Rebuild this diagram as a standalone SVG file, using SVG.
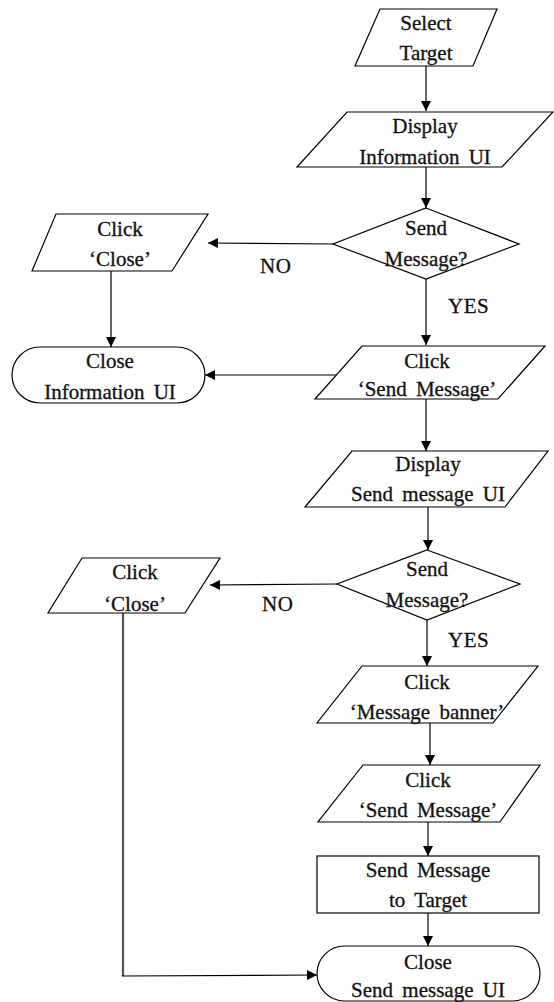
<svg xmlns="http://www.w3.org/2000/svg" width="554" height="1002" viewBox="0 0 554 1002">
<defs>
<marker id="ah" markerUnits="userSpaceOnUse" markerWidth="11" markerHeight="10" refX="10" refY="5" orient="auto">
<path d="M0,0 L10,5 L0,10 z" fill="#000"/>
</marker>
<style>
.s{fill:#fff;stroke:#000;stroke-width:1.2}
.t{font-family:"Liberation Serif","Times New Roman",serif;font-size:21px;letter-spacing:0px;word-spacing:4px;fill:#111;stroke:#111;stroke-width:0.3;text-anchor:middle}
.l{font-family:"Liberation Serif","Times New Roman",serif;font-size:21px;letter-spacing:0.5px;fill:#111;stroke:#111;stroke-width:0.3}
.c{fill:none;stroke:#000;stroke-width:1.2;marker-end:url(#ah)}
</style>
</defs>
<rect width="554" height="1002" fill="#fff"/>
<g id="connectors">
<line class="c" x1="426" y1="66" x2="426" y2="111"/>
<line class="c" x1="426" y1="167" x2="426" y2="208"/>
<line class="c" x1="333" y1="244" x2="208" y2="243"/>
<line class="c" x1="426" y1="279" x2="426" y2="345"/>
<line class="c" x1="111" y1="271" x2="111" y2="347"/>
<line class="c" x1="336" y1="375" x2="205" y2="375"/>
<line class="c" x1="426" y1="399" x2="426" y2="451"/>
<line class="c" x1="428" y1="507" x2="428" y2="550"/>
<line class="c" x1="337" y1="584" x2="210" y2="585"/>
<line class="c" x1="427" y1="620" x2="427" y2="666"/>
<line class="c" x1="430" y1="723" x2="430" y2="765"/>
<line class="c" x1="428" y1="822" x2="428" y2="856"/>
<line class="c" x1="428" y1="913" x2="428" y2="946"/>
<line x1="123" y1="613" x2="123" y2="976" stroke="#555" stroke-width="2.2"/>
<line class="c" x1="122" y1="976" x2="317" y2="975"/>
<text class="l" x="260" y="273">NO</text>
<text class="l" x="448" y="313">YES</text>
<text class="l" x="262" y="611">NO</text>
<text class="l" x="448" y="647">YES</text>
</g>
<g id="select-target">
<polygon class="s" points="380,9 497,9 473,66 355,66"/>
<text class="t" x="426" y="30">Select</text>
<text class="t" x="426" y="60">Target</text>
</g>
<g id="display-info-ui">
<polygon class="s" points="347,112 553,112 502,167 297,167"/>
<text class="t" x="425" y="133">Display</text>
<text class="t" x="425" y="164">Information UI</text>
</g>
<g id="decision-1">
<polygon class="s" points="426,208 519,244 426,279 333,244"/>
<text class="t" x="426" y="235">Send</text>
<text class="t" x="426" y="266">Message?</text>
</g>
<g id="click-close-1">
<polygon class="s" points="56,214 208,214 172,271 32,271"/>
<text class="t" x="120" y="236">Click</text>
<text class="t" x="120" y="266">‘Close’</text>
</g>
<g id="close-info-ui">
<rect class="s" x="12" y="347" width="193" height="56" rx="28" ry="28"/>
<text class="t" x="110" y="368">Close</text>
<text class="t" x="110" y="399">Information UI</text>
</g>
<g id="click-send-message-1">
<polygon class="s" points="362,346 545,346 498,399 315,399"/>
<text class="t" x="427" y="368">Click</text>
<text class="t" x="427" y="396">‘Send Message’</text>
</g>
<g id="display-send-ui">
<polygon class="s" points="352,451 548,451 505,507 305,507"/>
<text class="t" x="428" y="471">Display</text>
<text class="t" x="428" y="501">Send message UI</text>
</g>
<g id="decision-2">
<polygon class="s" points="427,550 520,584 427,620 337,584"/>
<text class="t" x="427" y="576">Send</text>
<text class="t" x="427" y="607">Message?</text>
</g>
<g id="click-close-2">
<polygon class="s" points="82,558 220,558 185,613 48,613"/>
<text class="t" x="135" y="579">Click</text>
<text class="t" x="135" y="611">‘Close’</text>
</g>
<g id="click-banner">
<polygon class="s" points="362,666 538,666 493,723 317,723"/>
<text class="t" x="427" y="689">Click</text>
<text class="t" x="427" y="719">‘Message banner’</text>
</g>
<g id="click-send-message-2">
<polygon class="s" points="363,765 540,765 500,822 318,822"/>
<text class="t" x="428" y="787">Click</text>
<text class="t" x="428" y="817">‘Send Message’</text>
</g>
<g id="send-to-target">
<rect class="s" x="317" y="856" width="222" height="57"/>
<text class="t" x="428" y="877">Send Message</text>
<text class="t" x="428" y="907">to Target</text>
</g>
<g id="close-send-ui">
<rect class="s" x="317" y="946" width="223" height="55" rx="27.5" ry="27.5"/>
<text class="t" x="428" y="969">Close</text>
<text class="t" x="428" y="997">Send message UI</text>
</g>
</svg>
